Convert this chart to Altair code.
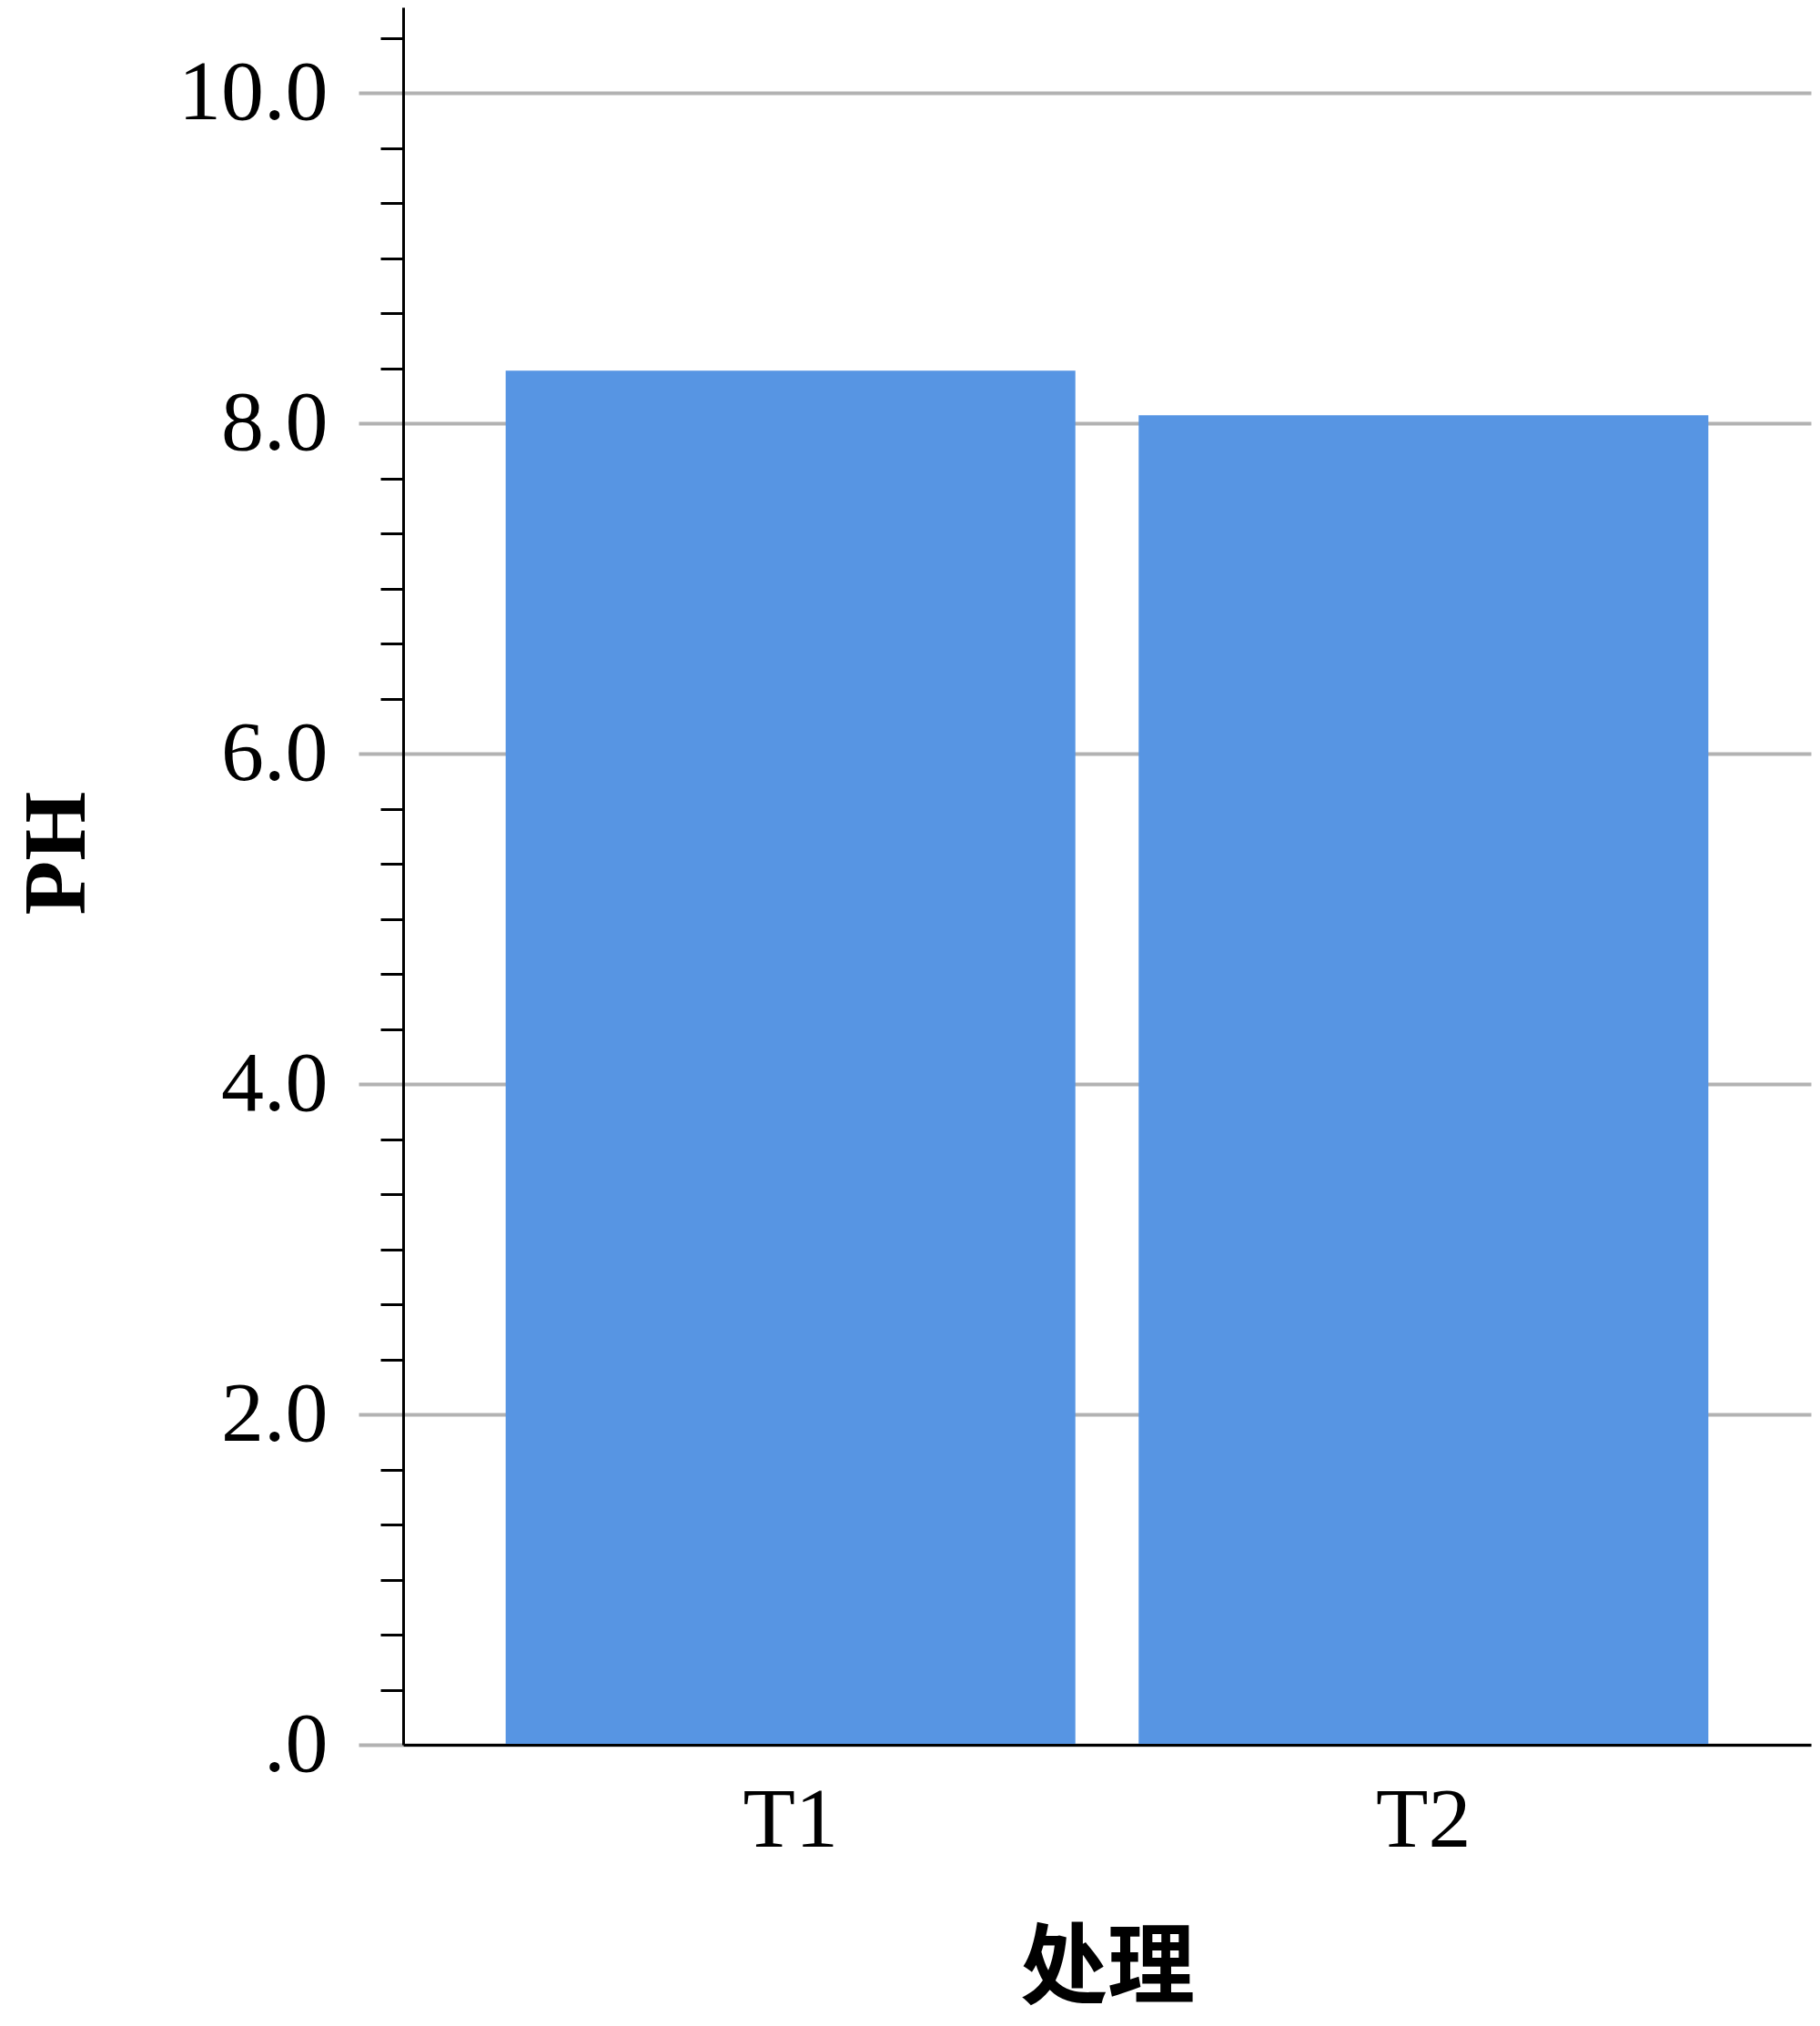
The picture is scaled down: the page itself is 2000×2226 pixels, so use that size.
import altair as alt
import pandas as pd

categories = ["T1", "T2"]
ph_values = [8.32, 8.05]
major_ticks = [0, 2, 4, 6, 8, 10]
minor_ticks = [0.3333, 0.6667, 1.0, 1.3333, 1.6667,
               2.3333, 2.6667, 3.0, 3.3333, 3.6667,
               4.3333, 4.6667, 5.0, 5.3333, 5.6667,
               6.3333, 6.6667, 7.0, 7.3333, 7.6667,
               8.3333, 8.6667, 9.0, 9.3333, 9.6667,
               10.3333]

df = pd.DataFrame({"处理": categories, "PH": ph_values})

SERIF = "Liberation Serif"
GRID = "#b2b2b2"

x_enc = alt.X(
    "处理:N",
    sort=categories,
    scale=alt.Scale(paddingInner=0.1, paddingOuter=0.162),
    axis=alt.Axis(
        title="处理",
        labelAngle=0,
        ticks=False,
        domainColor="black",
        domainWidth=3,
        labelFont=SERIF,
        labelFontSize=94,
        labelColor="black",
        labelPadding=37,
        titleFont="'Noto Sans CJK SC'",
        titleFontWeight="bold",
        titleFontSize=96,
        titleColor="black",
        titleY=246,
        titleBaseline="middle",
        zindex=1,
    ),
)

y_scale = alt.Scale(domain=[0, 10.52], nice=False, zero=True)

bars = alt.Chart(df).mark_bar(color="#5795e3").encode(
    x=x_enc,
    y=alt.Y(
        "PH:Q",
        scale=y_scale,
        axis=alt.Axis(
            orient="left",
            values=major_ticks,
            grid=True,
            gridColor=GRID,
            gridWidth=4,
            tickColor=GRID,
            tickWidth=4,
            tickSize=49,
            domainColor="black",
            domainWidth=3,
            labelFont=SERIF,
            labelFontSize=94,
            labelColor="black",
            labelPadding=34,
            labelExpr="datum.value == 0 ? '.0' : format(datum.value, '.1f')",
            title="PH",
            titleFont=SERIF,
            titleFontWeight="bold",
            titleFontSize=98,
            titleColor="black",
            titleAngle=270,
            titleAlign="center",
            titleBaseline="middle",
            titleX=-380,
            titleY=929,
        ),
    ),
)

minor = alt.Chart(df).mark_bar(opacity=0).encode(
    x=x_enc,
    y=alt.Y(
        "PH:Q",
        scale=y_scale,
        axis=alt.Axis(
            orient="left",
            values=minor_ticks,
            labels=False,
            grid=False,
            domain=False,
            ticks=True,
            tickColor="black",
            tickWidth=3,
            tickSize=25,
            title=None,
        ),
    ),
)

chart = (
    alt.layer(bars, minor)
    .resolve_axis(y="independent")
    .properties(
        width=1547,
        height=1909,
        padding={"left": 435, "top": 0, "right": 2, "bottom": 301},
        autosize=alt.AutoSizeParams(type="none"),
    )
    .configure_view(stroke=None)
)

chart.save("out.html", embed_options={"renderer": "svg", "actions": False})
